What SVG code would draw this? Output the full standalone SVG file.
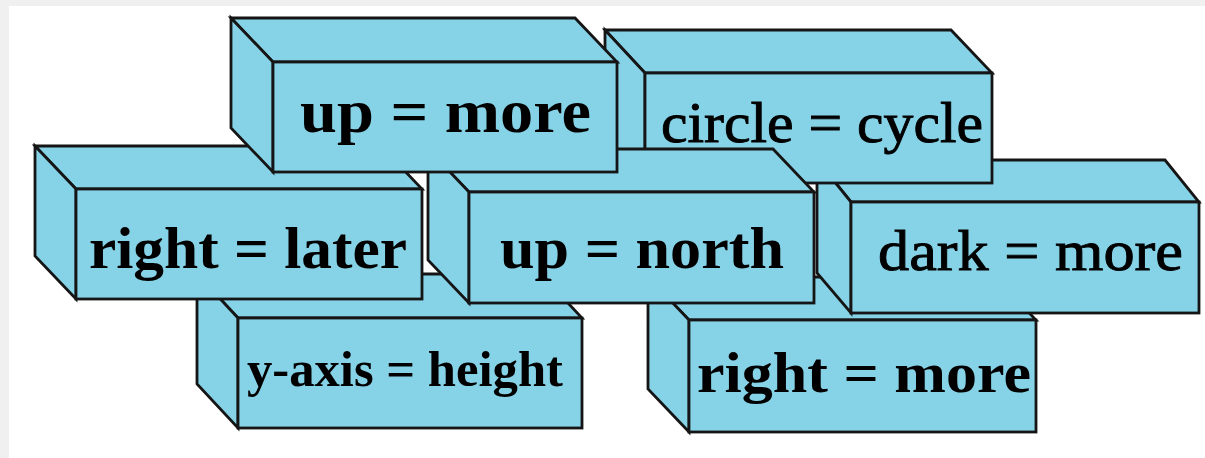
<svg xmlns="http://www.w3.org/2000/svg" width="1205" height="458" viewBox="0 0 1205 458">
<style>
.face{fill:#86d2e6;stroke:#151515;stroke-width:2.8;stroke-linejoin:miter}
.lbl{font-family:"Liberation Serif","DejaVu Serif",serif;fill:#000}
.b{font-weight:bold}
.m{stroke:#000;stroke-width:0.9}
</style>
<rect x="0" y="0" width="1205" height="458" fill="#ffffff"/>
<rect x="0" y="0" width="1205" height="6" fill="#f0f0f0"/>
<rect x="0" y="0" width="9" height="458" fill="#f0f0f0"/>

<g id="box-right-more">
<polygon class="face" points="648,277 995,277 1036,320 689,320"/>
<polygon class="face" points="648,277 689,320 689,432 648,389"/>
<rect class="face" x="689" y="320" width="347" height="112"/>
<text class="lbl b" x="697" y="392" font-size="58" textLength="334" lengthAdjust="spacingAndGlyphs">right = more</text>
</g>

<g id="box-y-axis-height">
<polygon class="face" points="197,274 541,274 582,318 238,318"/>
<polygon class="face" points="197,274 238,318 238,428 197,384"/>
<rect class="face" x="238" y="318" width="344" height="110"/>
<text class="lbl b" x="247" y="386" font-size="50" textLength="316" lengthAdjust="spacingAndGlyphs">y-axis = height</text>
</g>

<g id="box-dark-more">
<polygon class="face" points="817,160 1165,160 1199,202 851,202"/>
<polygon class="face" points="817,160 851,202 851,313 817,273"/>
<rect class="face" x="851" y="202" width="348" height="111"/>
<text class="lbl m" x="878" y="270" font-size="56" textLength="305" lengthAdjust="spacingAndGlyphs">dark = more</text>
</g>

<g id="box-circle-cycle">
<polygon class="face" points="605,30 951,30 992,73 645,73"/>
<polygon class="face" points="605,30 645,73 645,183 605,140"/>
<rect class="face" x="645" y="73" width="347" height="110"/>
<text class="lbl m" x="661" y="142" font-size="56" textLength="322" lengthAdjust="spacingAndGlyphs">circle = cycle</text>
</g>

<g id="box-up-north">
<polygon class="face" points="428,149 773,149 814,192 469,192"/>
<polygon class="face" points="428,149 469,192 469,303 428,260"/>
<rect class="face" x="469" y="192" width="345" height="111"/>
<text class="lbl b" x="500" y="268" font-size="60" textLength="284" lengthAdjust="spacingAndGlyphs">up = north</text>
</g>

<g id="box-right-later">
<polygon class="face" points="35,146 381,146 422,189 76,189"/>
<polygon class="face" points="35,146 76,189 76,299 35,256"/>
<rect class="face" x="76" y="189" width="346" height="110"/>
<text class="lbl b" x="89" y="268" font-size="60" textLength="318" lengthAdjust="spacingAndGlyphs">right = later</text>
</g>

<g id="box-up-more">
<polygon class="face" points="231,18 575,18 617,62 273,62"/>
<polygon class="face" points="231,18 273,62 273,172 231,128"/>
<rect class="face" x="273" y="62" width="344" height="110"/>
<text class="lbl b" x="300" y="132" font-size="62" textLength="291" lengthAdjust="spacingAndGlyphs">up = more</text>
</g>

<g id="connectors"></g>
</svg>
